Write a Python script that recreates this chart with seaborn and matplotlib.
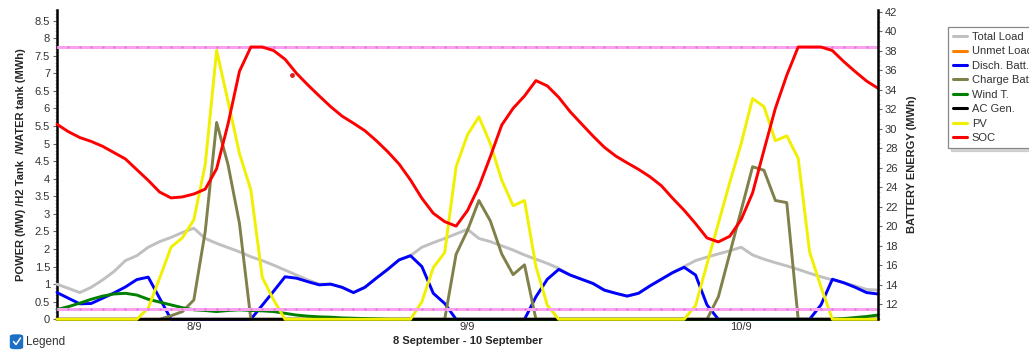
import matplotlib
matplotlib.use("Agg")
import matplotlib.pyplot as plt
from matplotlib.lines import Line2D
from matplotlib.patches import FancyBboxPatch
from matplotlib.ticker import MultipleLocator, FuncFormatter
import pandas as pd
import seaborn as sns

# hourly values, 8 Sep 00:00 -> 11 Sep 00:00
hours = list(range(73))
day_ticks = [12, 36, 60]
day_labels = ["8/9", "9/9", "10/9"]

total_load = [1.0, 0.88, 0.76, 0.91, 1.12, 1.36, 1.67, 1.81, 2.05, 2.21, 2.33, 2.47, 2.59,
              2.30, 2.16, 2.04, 1.92, 1.78, 1.67, 1.54, 1.40, 1.26, 1.12, 1.0, 1.0,
              0.91, 0.76, 0.91, 1.17, 1.42, 1.69, 1.81, 2.05, 2.18, 2.30, 2.43, 2.56,
              2.30, 2.21, 2.09, 1.97, 1.83, 1.71, 1.59, 1.45, 1.26, 1.14, 1.02, 0.83,
              0.74, 0.66, 0.74, 0.95, 1.14, 1.33, 1.50, 1.67, 1.77, 1.86, 1.95, 2.05,
              1.83, 1.71, 1.61, 1.52, 1.42, 1.31, 1.21, 1.12, 1.04, 0.95, 0.85, 0.83]
unmet_load = [0, 0, 0, 0, 0, 0, 0, 0, 0, 0, 0, 0, 0, 0, 0, 0, 0, 0, 0, 0, 0, 0, 0, 0, 0,
              0, 0, 0, 0, 0, 0, 0, 0, 0, 0, 0, 0, 0, 0, 0, 0, 0, 0, 0, 0, 0, 0, 0, 0,
              0, 0, 0, 0, 0, 0, 0, 0, 0, 0, 0, 0, 0, 0, 0, 0, 0, 0, 0, 0, 0, 0, 0, 0]
disch_batt = [0.76, 0.60, 0.44, 0.45, 0.60, 0.75, 0.92, 1.13, 1.20, 0.60, 0, 0, 0,
              0, 0, 0, 0, 0, 0.40, 0.80, 1.21, 1.17, 1.07, 0.98, 1.0,
              0.91, 0.76, 0.91, 1.17, 1.42, 1.69, 1.81, 1.50, 0.74, 0.45, 0, 0,
              0, 0, 0, 0, 0, 0.64, 1.14, 1.42, 1.26, 1.14, 1.02, 0.83,
              0.74, 0.66, 0.74, 0.95, 1.14, 1.33, 1.48, 1.26, 0.41, 0, 0, 0,
              0, 0, 0, 0, 0, 0, 0.41, 1.14, 1.04, 0.91, 0.76, 0.72]
charge_batt = [0, 0, 0, 0, 0, 0, 0, 0, 0, 0, 0.10, 0.22, 0.55,
               2.50, 5.60, 4.40, 2.73, 0, 0, 0, 0, 0, 0, 0, 0,
               0, 0, 0, 0, 0, 0, 0, 0, 0, 0, 1.85, 2.53,
               3.38, 2.80, 1.86, 1.27, 1.55, 0, 0, 0, 0, 0, 0, 0,
               0, 0, 0, 0, 0, 0, 0, 0, 0, 0.64, 1.87, 3.10,
               4.34, 4.24, 3.38, 3.32, 0, 0, 0, 0, 0, 0, 0, 0]
wind = [0.28, 0.36, 0.46, 0.57, 0.66, 0.72, 0.74, 0.69, 0.57, 0.49, 0.41, 0.33, 0.27,
        0.25, 0.22, 0.25, 0.27, 0.25, 0.24, 0.22, 0.17, 0.12, 0.09, 0.07, 0.06,
        0.04, 0.03, 0.02, 0.01, 0, 0, 0, 0, 0, 0, 0, 0,
        0, 0, 0, 0, 0, 0, 0, 0, 0, 0, 0, 0,
        0, 0, 0, 0, 0, 0, 0, 0, 0, 0, 0, 0,
        0, 0, 0, 0, 0, 0, 0, 0, 0.02, 0.05, 0.08, 0.12]
ac_gen = [0, 0, 0, 0, 0, 0, 0, 0, 0, 0, 0, 0, 0, 0, 0, 0, 0, 0, 0, 0, 0, 0, 0, 0, 0,
          0, 0, 0, 0, 0, 0, 0, 0, 0, 0, 0, 0, 0, 0, 0, 0, 0, 0, 0, 0, 0, 0, 0, 0,
          0, 0, 0, 0, 0, 0, 0, 0, 0, 0, 0, 0, 0, 0, 0, 0, 0, 0, 0, 0, 0, 0, 0, 0]
pv = [0, 0, 0, 0, 0, 0, 0, 0, 0.32, 1.17, 2.05, 2.32, 2.83,
      4.40, 7.65, 6.20, 4.72, 3.68, 1.19, 0.55, 0, 0, 0, 0, 0,
      0, 0, 0, 0, 0, 0, 0, 0.50, 1.47, 1.90, 4.34, 5.25,
      5.76, 5.00, 3.96, 3.23, 3.38, 1.50, 0.40, 0, 0, 0, 0, 0,
      0, 0, 0, 0, 0, 0, 0, 0.39, 1.57, 2.73, 3.89, 5.00,
      6.28, 6.05, 5.08, 5.22, 4.58, 1.92, 0.92, 0, 0, 0, 0, 0]
soc = [30.46, 29.7, 29.1, 28.7, 28.2, 27.55, 26.9, 25.8, 24.7, 23.5, 22.9, 23.0, 23.3,
       23.8, 25.9, 30.5, 35.9, 38.4, 38.4, 38.03, 37.14, 35.7, 34.5, 33.37, 32.27,
       31.3, 30.57, 29.8, 28.78, 27.65, 26.38, 24.74, 22.86, 21.32, 20.46, 20.0, 21.6,
       24.05, 27.13, 30.38, 32.1, 33.37, 34.95, 34.4, 33.23, 31.76, 30.5, 29.26, 28.1,
       27.2, 26.5, 25.83, 25.07, 24.15, 22.85, 21.63, 20.26, 18.79, 18.38, 18.96, 20.67,
       23.41, 27.8, 32.1, 35.5, 38.4, 38.4, 38.4, 38.03, 36.9, 35.87, 34.9, 34.16]
soc_max = 38.4
soc_min = 11.52
stray_point = (20.6, 35.5)

SERIES = [
    ("Total Load", total_load, "#c0c0c0"),
    ("Unmet Load", unmet_load, "#ff8000"),
    ("Disch. Batt.", disch_batt, "#0000ff"),
    ("Charge Batt.", charge_batt, "#80804a"),
    ("Wind T.", wind, "#008000"),
    ("AC Gen.", ac_gen, "#000000"),
    ("PV", pv, "#f0f000"),
]
SOC_COLOR = "#ff0000"
PINK = "#f9a3f0"

df = pd.DataFrame({"hour": hours} | {name: vals for name, vals, _ in SERIES} | {"SOC": soc})

sns.set_theme(style="white")
plt.rcParams["font.family"] = ["Liberation Sans", "DejaVu Sans"]

fig = plt.figure(figsize=(10.29, 3.52), dpi=100)
ax = fig.add_axes([57 / 1029, 1 - 319.3 / 352, 821 / 1029, 309.3 / 352])
ax2 = ax.twinx()

# later series sit on top (like the original chart); snap off so flat zero
# lines stay exactly under each other
for i, (name, _, color) in enumerate(SERIES):
    sns.lineplot(data=df, x="hour", y=name, ax=ax, color=color, lw=2.1,
                 legend=False, zorder=3 + i * 0.1, clip_on=False, snap=False)

# SOC limits with hourly dots
df_lim = pd.DataFrame({"hour": hours, "max": [soc_max] * len(hours), "min": [soc_min] * len(hours)})
for col in ["max", "min"]:
    sns.lineplot(data=df_lim, x="hour", y=col, ax=ax2, color=PINK, lw=2.2, legend=False,
                 marker="o", markersize=1.6, markeredgewidth=0, markerfacecolor="#e070d8")
sns.lineplot(data=df, x="hour", y="SOC", ax=ax2, color=SOC_COLOR, lw=2.1, legend=False, clip_on=False)
ax2.plot([stray_point[0]], [stray_point[1]], "o", color="#e02020", ms=2.5)

ax.set_xlim(0, 72)
ax.set_ylim(0, 8.80)
ax2.set_ylim(10.43, 42.2)

ax.set_xticks(day_ticks)
ax.set_xticklabels(day_labels)
ax.yaxis.set_minor_locator(MultipleLocator(0.1))
ax.set_yticks([v / 2 for v in range(0, 18)])
ax.yaxis.set_major_formatter(FuncFormatter(lambda v, _: f"{v:g}"))
ax2.yaxis.set_minor_locator(MultipleLocator(0.5))
ax2.set_yticks([t for t in range(12, 43, 2)])

for a in (ax, ax2):
    for s in ("top", "bottom"):
        a.spines[s].set_visible(False)
ax.spines["left"].set_color("black")
ax.spines["left"].set_linewidth(1.8)
ax.spines["right"].set_visible(False)
ax2.spines["left"].set_visible(False)
ax2.spines["right"].set_color("black")
ax2.spines["right"].set_linewidth(1.8)

ax.tick_params(axis="x", length=0, pad=2, labelsize=8, labelcolor="#333333")
ax.tick_params(axis="y", which="major", direction="out", length=3, width=0.8, color="#666666",
               pad=2, labelsize=8, labelcolor="#333333", left=True)
ax.tick_params(axis="y", which="minor", direction="out", length=1.5, width=0.5, color="#999999", left=True)
ax2.tick_params(axis="y", which="major", direction="out", length=3, width=0.8, color="#666666",
                pad=2, labelsize=8, labelcolor="#333333", right=True)
ax2.tick_params(axis="y", which="minor", direction="out", length=1.5, width=0.5, color="#999999", right=True)

ax.set_xlabel("8 September - 10 September", fontsize=8, fontweight="bold", labelpad=3)
ax.set_ylabel("POWER (MW) /H2 Tank  /WATER tank (MWh)", fontsize=8, fontweight="bold", labelpad=6)
ax2.set_ylabel("BATTERY ENERGY (MWh)", fontsize=8, fontweight="bold", labelpad=7)

handles = [Line2D([], [], color=c, lw=2.2) for _, _, c in SERIES] + [Line2D([], [], color=SOC_COLOR, lw=2.2)]
labels = [n for n, _, _ in SERIES] + ["SOC"]
leg = fig.legend(handles, labels, loc="upper left", bbox_to_anchor=(948 / 1029, 1 - 27 / 352),
                 fontsize=8, frameon=True, fancybox=False,
                 shadow={"color": "#bbbbbb", "alpha": 0.6}, handlelength=1.3,
                 handletextpad=0.4, labelspacing=0.4, borderpad=0.45, borderaxespad=0)
leg.get_frame().set_edgecolor("#888888")
leg.get_frame().set_linewidth(0.9)
for t in leg.get_texts():
    t.set_color("#333333")

# "Legend" checkbox at bottom left
box = FancyBboxPatch((10.5 / 1029, 1 - 348.5 / 352), 12 / 1029, 13.5 / 352,
                     boxstyle="round,pad=0,rounding_size=0.004", transform=fig.transFigure,
                     facecolor="#1c6fc4", edgecolor="#1c6fc4")
fig.patches.append(box)
fig.lines.append(Line2D([13.5 / 1029, 16 / 1029, 20.5 / 1029], [1 - 341.5 / 352, 1 - 344.5 / 352, 1 - 338 / 352],
                        transform=fig.transFigure, color="white", lw=1.1))
fig.text(26 / 1029, 1 - 341.5 / 352, "Legend", fontsize=8.5, va="center", ha="left", color="#333333")

fig.savefig("out.png", dpi=100)
